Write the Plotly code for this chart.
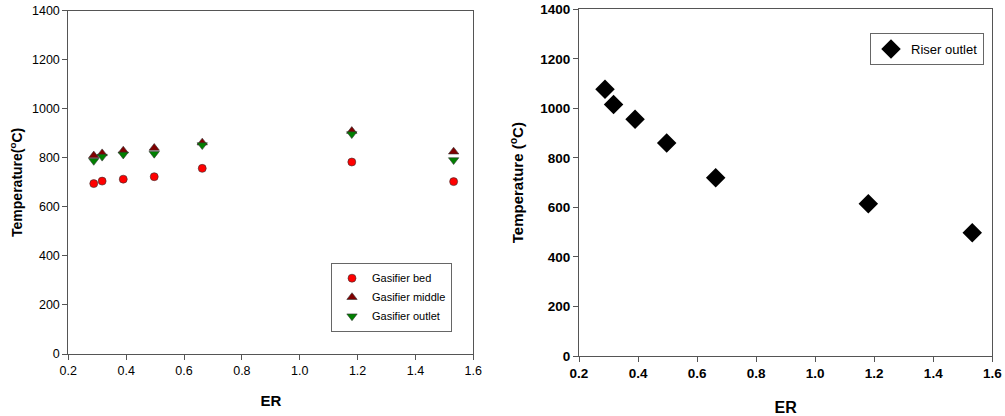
import plotly.graph_objects as go

er = [0.288, 0.317, 0.390, 0.497, 0.663, 1.180, 1.532]
gasifier_bed = [695, 705, 713, 723, 757, 783, 703]
gasifier_middle = [809, 818, 829, 840, 862, 909, 825]
gasifier_outlet = [788, 805, 814, 817, 852, 897, 791]
riser_outlet = [1077, 1016, 956, 860, 720, 615, 498]

x_ticks = [0.2, 0.4, 0.6, 0.8, 1.0, 1.2, 1.4, 1.6]
y_ticks = [0, 200, 400, 600, 800, 1000, 1200, 1400]

W, H = 1005, 416

fig = go.Figure()
fig.add_trace(go.Scatter(x=er, y=gasifier_bed, mode="markers", name="Gasifier bed",
                         marker=dict(symbol="circle", size=8, color="#ff0000", line=dict(width=0.6, color="#333")),
                         xaxis="x", yaxis="y", legend="legend"))
fig.add_trace(go.Scatter(x=er, y=gasifier_middle, mode="markers", name="Gasifier middle",
                         marker=dict(symbol="triangle-up", size=9, color="#800000", line=dict(width=0.6, color="#333")),
                         xaxis="x", yaxis="y", legend="legend"))
fig.add_trace(go.Scatter(x=er, y=gasifier_outlet, mode="markers", name="Gasifier outlet",
                         marker=dict(symbol="triangle-down", size=9, color="#008000", line=dict(width=0.6, color="#333")),
                         xaxis="x", yaxis="y", legend="legend"))
fig.add_trace(go.Scatter(x=er, y=riser_outlet, mode="markers", name="Riser outlet",
                         marker=dict(symbol="diamond", size=15, color="#000000"),
                         xaxis="x2", yaxis="y2", legend="legend2"))

axis_common = dict(showline=True, linecolor="#555", linewidth=1, mirror=True, showgrid=False,
                   zeroline=False, ticks="outside", ticklen=5, tickcolor="#555", automargin=False)

fig.update_layout(
    width=W, height=H,
    margin=dict(l=0, r=0, t=0, b=0, autoexpand=False),
    paper_bgcolor="white", plot_bgcolor="white",
    font=dict(family="Liberation Sans, Arial, sans-serif", color="#000"),
    xaxis=dict(axis_common, domain=[68.3 / W, 473.3 / W], range=[0.2, 1.6], tickvals=x_ticks, tickformat=".1f",
               anchor="y", tickfont=dict(size=12.5),
               title=dict(text="<b>ER</b>", font=dict(size=15), standoff=18)),
    yaxis=dict(axis_common, domain=[1 - 354 / H, 1 - 10.7 / H], range=[0, 1400], tickvals=y_ticks,
               anchor="x", tickfont=dict(size=12.5),
               title=dict(text="<b>Temperature(<sup>o</sup>C)</b>", font=dict(size=14), standoff=6)),
    xaxis2=dict(axis_common, domain=[579 / W, 992.3 / W], range=[0.2, 1.6], tickvals=x_ticks, tickformat=".1f",
                anchor="y2", tickfont=dict(size=13.5, weight="bold"),
                title=dict(text="<b>ER</b>", font=dict(size=16), standoff=22)),
    yaxis2=dict(axis_common, domain=[1 - 356 / H, 1 - 9.3 / H], range=[0, 1400], tickvals=y_ticks,
                anchor="x2", tickfont=dict(size=13.5, weight="bold"),
                title=dict(text="<b>Temperature (<sup>o</sup>C)</b>", font=dict(size=15), standoff=12)),
    legend=dict(x=331 / W, y=1 - 262.7 / H, xanchor="left", yanchor="top",
                bordercolor="#666", borderwidth=1, bgcolor="white",
                font=dict(size=11), tracegroupgap=0),
    legend2=dict(x=870 / W, y=1 - 33 / H, xanchor="left", yanchor="top",
                 bordercolor="#666", borderwidth=1, bgcolor="white",
                 font=dict(size=13)),
)

fig.write_html("out.html", config={"displayModeBar": False},
               post_script="document.body.style.margin='0';document.body.style.overflow='hidden';")
